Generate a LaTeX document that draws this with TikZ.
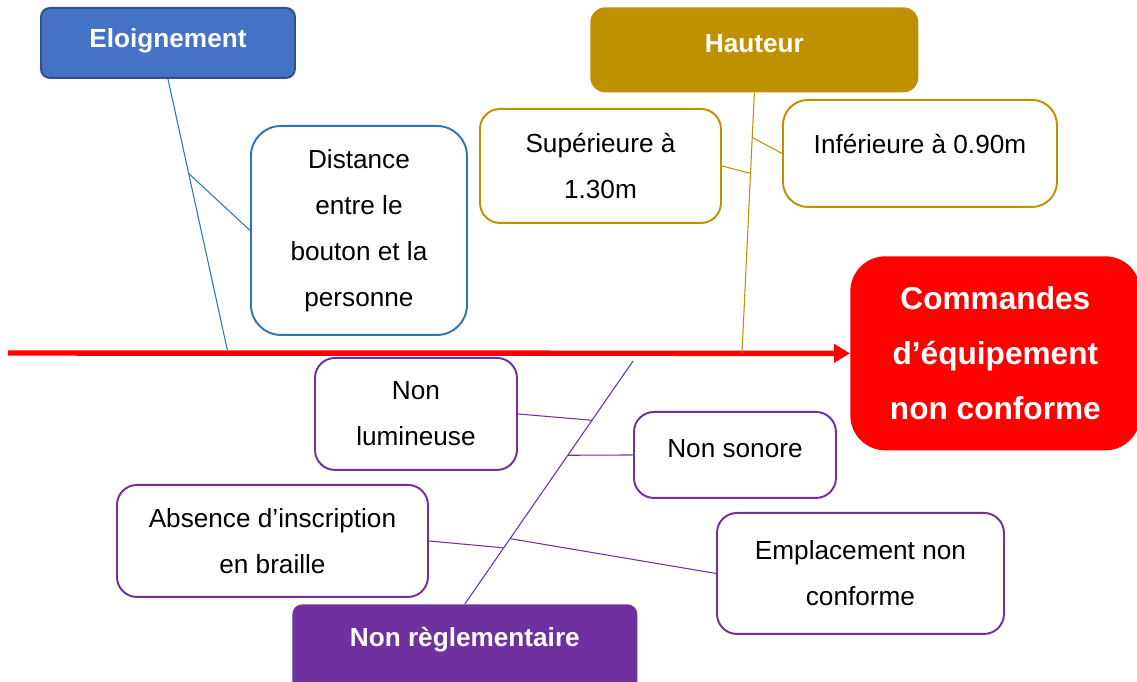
\documentclass[tikz,border=0pt]{standalone}
\usepackage{fontspec}
\setmainfont{Liberation Sans}
\usetikzlibrary{arrows.meta,calc}
\definecolor{eloblue}{HTML}{4472C4}
\definecolor{eloedge}{HTML}{2F528F}
\definecolor{boxblue}{HTML}{2E75B6}
\definecolor{gold}{HTML}{BF9000}
\definecolor{regpurple}{HTML}{7030A0}
\tikzset{
  txt/.style={font=\fontsize{14.9}{26.2}\selectfont, align=center, inner sep=0pt, anchor=north west},
  cause/.style={txt, draw, line width=1.1pt, fill=white, rounded corners=0.4cm},
  catbox/.style={txt, font=\fontsize{14.9}{26.2}\selectfont\bfseries, text=white, rounded corners=0.25cm},
  twig/.style={line width=0.6pt}
}

\begin{document}
\begin{tikzpicture}
\useasboundingbox (0,0) rectangle (22.74,13.62);
\node[catbox, fill=eloblue, draw=eloedge, line width=1.1pt, rounded corners=0.18cm, minimum width=5.08cm, text height=0.8cm, text depth=0.6cm] (elo) at (0.8,13.48) {Eloignement};
\node[cause, draw=boxblue, rounded corners=0.6cm, minimum width=4.32cm, minimum height=4.18cm] (dist) at (5.0,11.12) {Distance\\entre le\\bouton et la\\personne};
\node[catbox, fill=gold, rounded corners=0.3cm, minimum width=6.56cm, text height=0.9cm, text depth=0.8cm] (haut) at (11.8,13.48) {Hauteur};
\node[cause, draw=gold, minimum width=4.82cm, minimum height=2.28cm] (sup) at (9.58,11.46) {Supérieure à\\1.30m};
\node[cause, draw=gold, rounded corners=0.5cm, minimum width=5.48cm, text height=1.08cm, text depth=1.06cm] (inf) at (15.64,11.64) {Inférieure à 0.90m};
\node[catbox, fill=red, font=\fontsize{18}{31.3}\selectfont\bfseries, rounded corners=0.7cm, minimum width=5.8cm, minimum height=3.88cm] (cmd) at (17.0,8.5) {Commandes\\d’équipement\\non conforme};
\node[cause, draw=regpurple, minimum width=4.04cm, minimum height=2.24cm] (lum) at (6.28,6.48) {Non\\lumineuse};
\node[cause, draw=regpurple, minimum width=4.04cm, text height=0.92cm, text depth=0.8cm] (son) at (12.66,5.4) {Non sonore};
\node[cause, draw=regpurple, minimum width=6.22cm, minimum height=2.24cm] (abs) at (2.32,3.94) {Absence d’inscription\\en braille};
\node[cause, draw=regpurple, minimum width=5.74cm, minimum height=2.42cm] (emp) at (14.32,3.38) {Emplacement non\\conforme};
\node[catbox, fill=regpurple, rounded corners=0.2cm, minimum width=6.9cm, text height=0.84cm, text depth=0.96cm] (reg) at (5.84,1.54) {Non règlementaire};

\coordinate (tail) at (0.16,6.56);
\draw[line width=3.1pt, red, -{Triangle[length=0.32cm,width=0.36cm]}] (tail) -- (cmd.west);

\coordinate (eloroot) at (4.56,6.56);
\draw[twig, boxblue] (elo.south) -- (eloroot);
\draw[twig, boxblue] ($(elo.south)!0.345!(eloroot)$) -- (dist.west);

\coordinate (hautroot) at (14.84,6.56);
\draw[twig, gold] (haut.south) -- (hautroot);
\draw[twig, gold] (sup.east) -- ($(haut.south)!0.31!(hautroot)$);
\draw[twig, gold] ($(haut.south)!0.172!(hautroot)$) -- (inf.west);

\coordinate (regtop) at (12.66,6.40);
\draw[twig, regpurple] (reg.north) -- (regtop);
\draw[twig, regpurple] (lum.east) -- ($(regtop)!0.244!(reg.north)$);
\draw[twig, regpurple] ($(regtop)!0.388!(reg.north)$) -- (son.west);
\draw[twig, regpurple] (abs.east) -- ($(regtop)!0.769!(reg.north)$);
\draw[twig, regpurple] ($(regtop)!0.731!(reg.north)$) -- (emp.west);
\end{tikzpicture}
\end{document}
